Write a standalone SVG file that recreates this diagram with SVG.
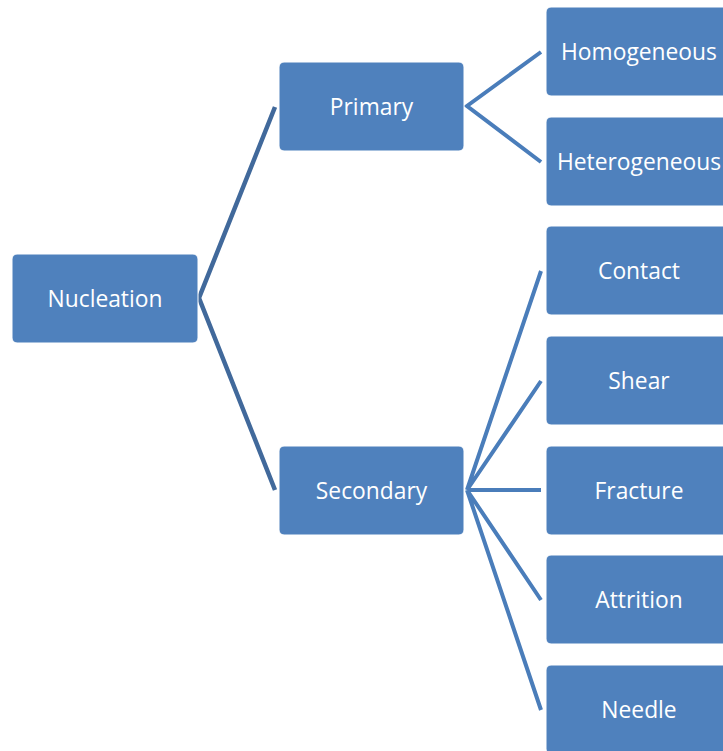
<svg xmlns="http://www.w3.org/2000/svg" width="723" height="751" viewBox="0 0 723 751">
<style>
.box{fill:#4F81BD;stroke:#FFFFFF;stroke-width:1}
.lbl{font-family:"Open Sans","Liberation Sans",sans-serif;font-size:22.8px;fill:#FFFFFF;text-anchor:middle}
.c1{stroke:#41699B;stroke-width:4.5;fill:none}
.c2{stroke:#4A7DBA;stroke-width:4;fill:none}
</style>
<rect width="723" height="751" fill="#FFFFFF"/>
<g id="connectors">
<polyline class="c1" points="275,107 199,298 275,490"/>
<polyline class="c2" points="541,52 467,106 541,162"/>
<path class="c2" d="M467,490 L541,271 M467,490 L541,381 M467,490 L541,490 M467,490 L541,600 M467,490 L541,710"/>
</g>
<g id="nucleation"><rect class="box" x="12" y="254" width="186" height="89" rx="5"/><text class="lbl" x="105" y="306.5">Nucleation</text></g>
<g id="primary"><rect class="box" x="279" y="62" width="185" height="89" rx="5"/><text class="lbl" x="371.5" y="114.5">Primary</text></g>
<g id="secondary"><rect class="box" x="279" y="446" width="185" height="89" rx="5"/><text class="lbl" x="371.5" y="498.5">Secondary</text></g>
<g id="homogeneous"><rect class="box" x="546" y="7" width="186" height="89" rx="5"/><text class="lbl" x="639" y="59.5">Homogeneous</text></g>
<g id="heterogeneous"><rect class="box" x="546" y="117" width="186" height="89" rx="5"/><text class="lbl" x="639" y="169.5">Heterogeneous</text></g>
<g id="contact"><rect class="box" x="546" y="226" width="186" height="89" rx="5"/><text class="lbl" x="639" y="278.5">Contact</text></g>
<g id="shear"><rect class="box" x="546" y="336" width="186" height="89" rx="5"/><text class="lbl" x="639" y="388.5">Shear</text></g>
<g id="fracture"><rect class="box" x="546" y="446" width="186" height="89" rx="5"/><text class="lbl" x="639" y="498.5">Fracture</text></g>
<g id="attrition"><rect class="box" x="546" y="555" width="186" height="89" rx="5"/><text class="lbl" x="639" y="607.5">Attrition</text></g>
<g id="needle"><rect class="box" x="546" y="665" width="186" height="89" rx="5"/><text class="lbl" x="639" y="717.5">Needle</text></g>
</svg>
